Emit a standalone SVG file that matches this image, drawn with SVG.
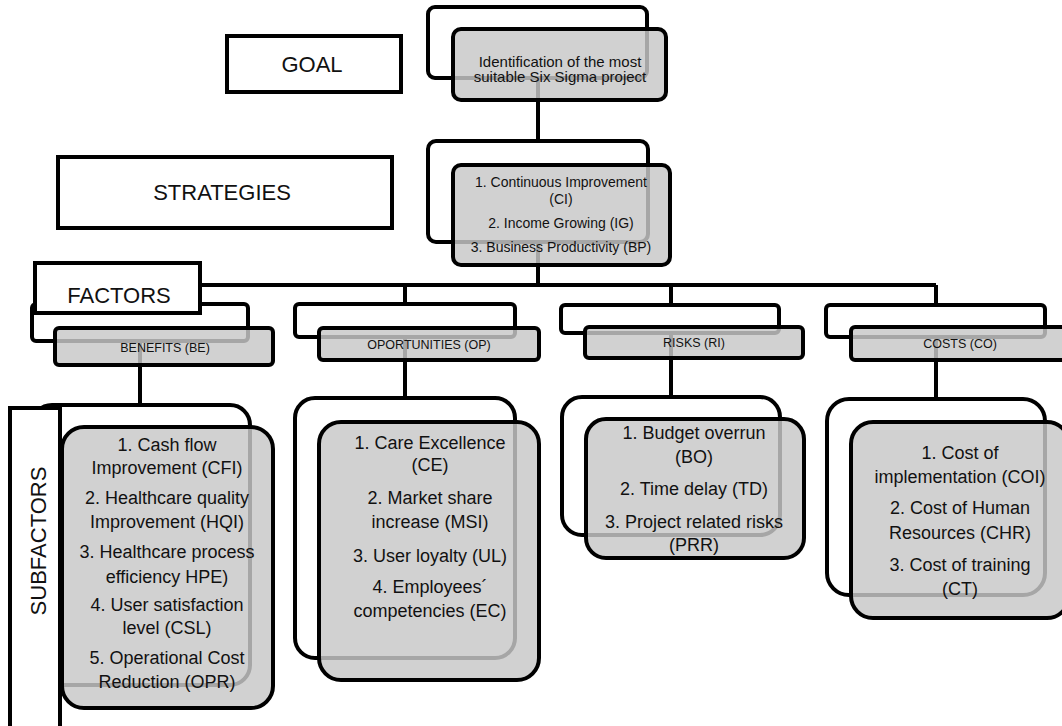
<svg xmlns="http://www.w3.org/2000/svg" width="1062" height="726" viewBox="0 0 1062 726">
<style>
.conn{fill:none;stroke:#000;stroke-width:4}
.back{fill:#fff;stroke:#000;stroke-width:4}
.front{fill:#c8c8c8;fill-opacity:0.83;stroke:#000;stroke-width:4}
.lbl{fill:#fff;stroke:#000;stroke-width:4}
text{font-family:"Liberation Sans",Arial,sans-serif;fill:#111;text-anchor:middle}
.t15{font-size:15px}
.t14{font-size:14px}
.t12{font-size:12.5px}
.t18{font-size:18px}
.t22{font-size:22px}
</style>
<rect width="1062" height="726" fill="#fff"/>
<g id="connectors">
<path class="conn" d="M538,78V141"/>
<path class="conn" d="M538,242V285"/>
<path class="conn" d="M140,285H936"/>
<path class="conn" d="M140,285V304M405,285V304M671,285V305M936,285V305"/>
<path class="conn" d="M140,341V405M405,337V398M671,333V397M936,337V399"/>
</g>
<g id="goal-node">
<rect class="back" x="428" y="7" width="219" height="71" rx="7"/>
<rect class="front" x="453" y="29" width="213" height="71" rx="8"/>
<text class="t15" x="560" y="67">Identification of the most</text>
<text class="t15" x="560" y="82">suitable Six Sigma project</text>
</g>
<g id="strategies-node">
<rect class="back" x="428" y="141" width="220" height="101" rx="8"/>
<rect class="front" x="453" y="165" width="217" height="100" rx="8"/>
<text class="t14" x="561" y="187">1. Continuous Improvement</text>
<text class="t14" x="561" y="204">(CI)</text>
<text class="t14" x="561" y="228">2. Income Growing (IG)</text>
<text class="t14" x="561" y="252">3. Business Productivity (BP)</text>
</g>
<g id="benefits">
<rect class="back" x="32" y="304" width="216" height="37" rx="4"/>
<rect class="front" x="55" y="328" width="218" height="37" rx="4"/>
<text class="t12" x="165" y="352">BENEFITS (BE)</text>
</g>
<g id="oportunities">
<rect class="back" x="295" y="304" width="220" height="33" rx="4"/>
<rect class="front" x="319" y="328" width="220" height="32" rx="4"/>
<text class="t12" x="429" y="349">OPORTUNITIES (OP)</text>
</g>
<g id="risks">
<rect class="back" x="561" y="305" width="218" height="28" rx="4"/>
<rect class="front" x="585" y="327" width="218" height="31" rx="4"/>
<text class="t12" x="694" y="347">RISKS (RI)</text>
</g>
<g id="costs">
<rect class="back" x="826" y="305" width="219" height="32" rx="4"/>
<rect class="front" x="851" y="327" width="218" height="33" rx="4"/>
<text class="t12" x="960" y="348">COSTS (CO)</text>
</g>
<g id="benefits-sub">
<rect class="back" x="32" y="405" width="218" height="280" rx="20"/>
<rect class="front" x="62" y="427" width="211" height="281" rx="22"/>
<text class="t18" x="167" y="451">1. Cash flow</text>
<text class="t18" x="167" y="474">Improvement (CFI)</text>
<text class="t18" x="167" y="504">2. Healthcare quality</text>
<text class="t18" x="167" y="528">Improvement (HQI)</text>
<text class="t18" x="167" y="558">3. Healthcare process</text>
<text class="t18" x="167" y="583">efficiency HPE)</text>
<text class="t18" x="167" y="611">4. User satisfaction</text>
<text class="t18" x="167" y="634">level (CSL)</text>
<text class="t18" x="167" y="664">5. Operational Cost</text>
<text class="t18" x="167" y="688">Reduction (OPR)</text>
</g>
<g id="oportunities-sub">
<rect class="back" x="295" y="398" width="220" height="260" rx="20"/>
<rect class="front" x="319" y="422" width="220" height="258" rx="22"/>
<text class="t18" x="430" y="449">1. Care Excellence</text>
<text class="t18" x="430" y="471">(CE)</text>
<text class="t18" x="430" y="504">2. Market share</text>
<text class="t18" x="430" y="528">increase (MSI)</text>
<text class="t18" x="430" y="562">3. User loyalty (UL)</text>
<text class="t18" x="430" y="593">4. Employees´</text>
<text class="t18" x="430" y="617">competencies (EC)</text>
</g>
<g id="risks-sub">
<rect class="back" x="562" y="397" width="218" height="138" rx="20"/>
<rect class="front" x="586" y="419" width="218" height="139" rx="20"/>
<text class="t18" x="694" y="439">1. Budget overrun</text>
<text class="t18" x="694" y="463">(BO)</text>
<text class="t18" x="694" y="495">2. Time delay (TD)</text>
<text class="t18" x="694" y="528">3. Project related risks</text>
<text class="t18" x="694" y="551">(PRR)</text>
</g>
<g id="costs-sub">
<rect class="back" x="827" y="399" width="218" height="196" rx="22"/>
<rect class="front" x="851" y="422" width="218" height="196" rx="22"/>
<text class="t18" x="960" y="459">1. Cost of</text>
<text class="t18" x="960" y="483">implementation (COI)</text>
<text class="t18" x="960" y="514">2. Cost of Human</text>
<text class="t18" x="960" y="539">Resources (CHR)</text>
<text class="t18" x="960" y="571">3. Cost of training</text>
<text class="t18" x="960" y="595">(CT)</text>
</g>
<g id="label-goal">
<rect class="lbl" x="227" y="36" width="174" height="56"/>
<text class="t22" x="312" y="72">GOAL</text>
</g>
<g id="label-strategies">
<rect class="lbl" x="58" y="157" width="334" height="71"/>
<text class="t22" x="222" y="200">STRATEGIES</text>
</g>
<g id="label-factors">
<rect class="lbl" x="35" y="263" width="165" height="50"/>
<text class="t22" x="119" y="303">FACTORS</text>
</g>
<g id="label-subfactors">
<rect class="lbl" x="10" y="408" width="50" height="330"/>
<text class="t22" transform="translate(46,541) rotate(-90)" x="0" y="0">SUBFACTORS</text>
</g>
</svg>
